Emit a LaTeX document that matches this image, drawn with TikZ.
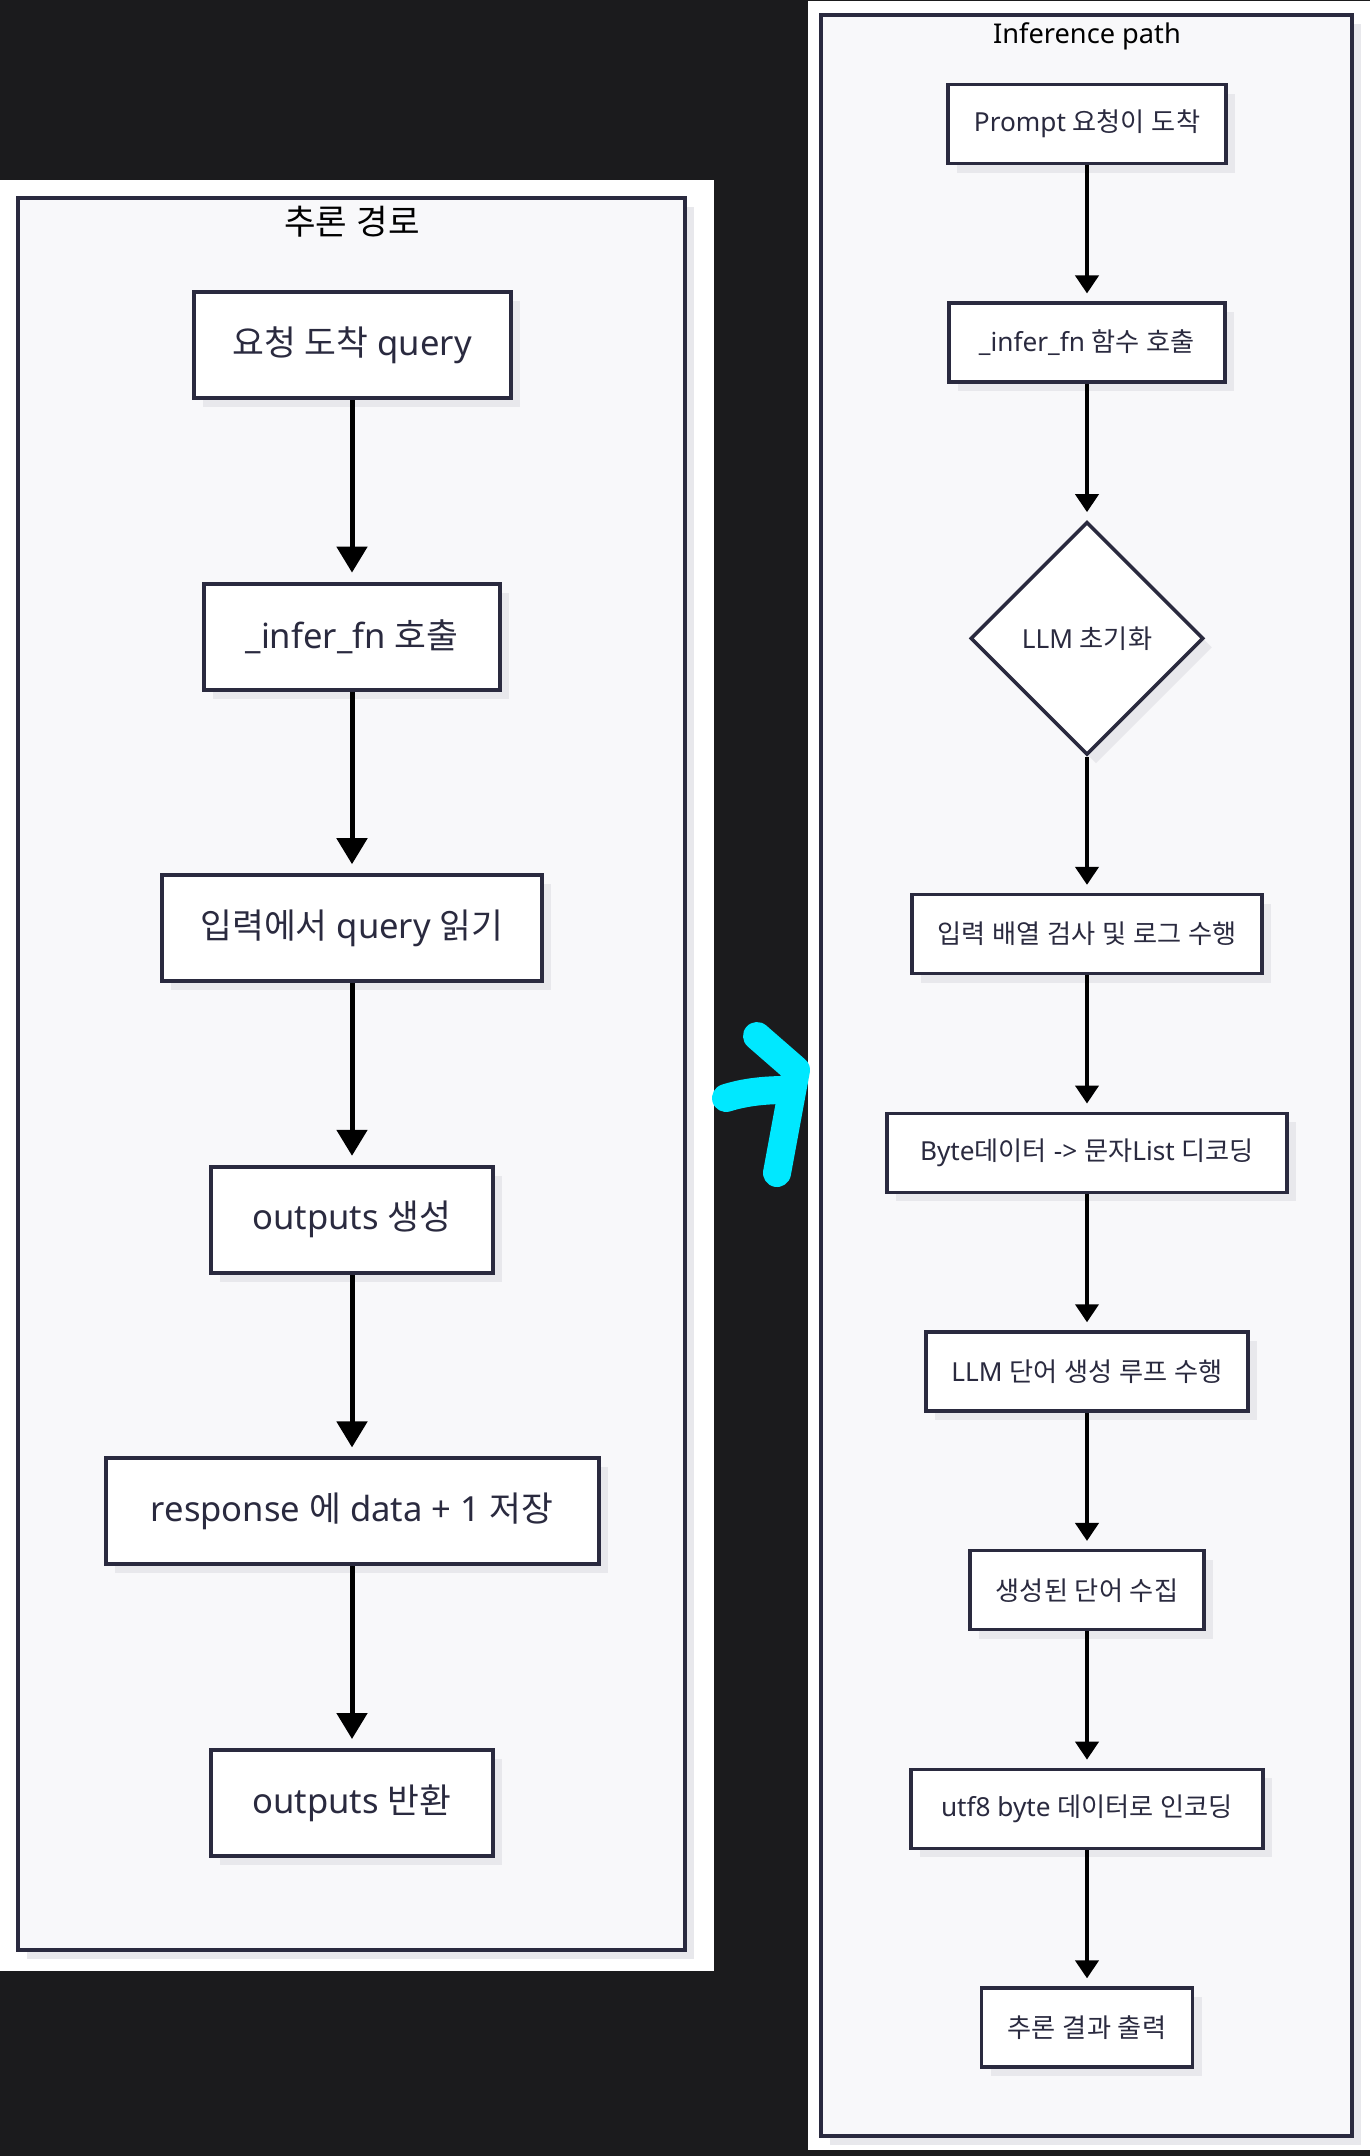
\documentclass[tikz,border=0pt]{standalone}
\usepackage{fontspec}
\setmainfont{Noto Sans}
\newfontfamily\krfont{Noto Sans CJK KR}
% 한글 글자는 CJK 글꼴로 자동 전환
\XeTeXinterchartokenstate=1
\newXeTeXintercharclass\krclass
\count255="AC00
\loop
  \XeTeXcharclass\count255=\krclass
  \ifnum\count255<"D7A3 \advance\count255 by 1
\repeat
\XeTeXinterchartoks 0 \krclass = {\begingroup\krfont}
\XeTeXinterchartoks 4095 \krclass = {\begingroup\krfont}
\XeTeXinterchartoks \krclass 0 = {\endgroup}
\XeTeXinterchartoks \krclass 4095 = {\endgroup}
\usepackage{xcolor}
\definecolor{cBack}{HTML}{1B1B1D}
\definecolor{cFrame}{HTML}{F8F8FA}
\definecolor{cMain}{HTML}{2A2A3F}
\definecolor{cShade}{HTML}{E8E8EC}
\definecolor{cMark}{HTML}{00E8FF}
\usepackage{tikz}
\usetikzlibrary{positioning,arrows.meta,shapes.geometric,shadows}
\tikzset{
  node-shade/.style={drop shadow={shadow xshift=9pt,shadow yshift=-9pt,
    fill=cShade,opacity=1}},
  node-big/.style={draw=cMain,line width=4pt,fill=white,node-shade,
    minimum height=106pt,inner xsep=2pt,text=cMain,
    font=\fontsize{34.6}{40}\selectfont},
  node-small/.style={draw=cMain,line width=3.5pt,fill=white,node-shade,
    minimum height=79pt,inner xsep=2pt,text=cMain,
    font=\fontsize{26.2}{31}\selectfont},
  node-choice/.style={diamond,draw=cMain,line width=3.5pt,fill=white,
    node-shade,minimum size=233pt,inner sep=0pt,text=cMain,
    font=\fontsize{26.2}{31}\selectfont},
  % 두 경로를 감싸는 틀과 제목
  group-frame/.style={draw=cMain,line width=4pt,fill=cFrame,node-shade},
  title-big/.style={text=black,font=\fontsize{34.3}{40}\selectfont},
  title-small/.style={text=black,font=\fontsize{27.2}{32}\selectfont},
  arrow-big/.style={-{Triangle[length=26pt,width=30pt]},line width=5pt,
    draw=black,shorten >=9pt},
  arrow-small/.style={-{Triangle[length=18pt,width=23pt]},line width=4pt,
    draw=black,shorten >=8pt},
  scribble/.style={draw=cMark,line width=28pt,line cap=round,line join=round},
}
\begin{document}
\begin{tikzpicture}[x=1pt,y=-1pt]
  \useasboundingbox (0,0) rectangle (1370,2156);
  \fill[cBack] (0,0) rectangle (1370,2156);
  \fill[white] (0,180) rectangle (714,1971);
  \fill[white] (808,1) rectangle (1370,2150);
  \draw[group-frame] (18,198) rectangle (685,1950);
  \draw[group-frame] (821,15) rectangle (1352,2136);
  \node[title-big] (leftTitle) at (352,222) {추론 경로};
  \node[title-small] (rightTitle) at (1087,36) {Inference path};

  \begin{scope}[node distance=181.6pt]
    \node[node-big,minimum width=317pt] (arrive) at (352,345) {요청 도착 query};
    \node[node-big,below=of arrive,minimum width=296pt] (infer) {\_infer\_fn 호출};
    \node[node-big,below=of infer,minimum width=380pt] (readq) {입력에서 query 읽기};
    \node[node-big,below=of readq,minimum width=282pt] (gen) {outputs 생성};
    \node[node-big,below=of gen,minimum width=493pt] (store) {response 에 data + 1 저장};
    \node[node-big,below=of store,minimum width=282pt] (ret) {outputs 반환};
    \draw[arrow-big] (arrive) -- (infer);
    \draw[arrow-big] (infer)  -- (readq);
    \draw[arrow-big] (readq)  -- (gen);
    \draw[arrow-big] (gen)    -- (store);
    \draw[arrow-big] (store)  -- (ret);
  \end{scope}

  \begin{scope}[node distance=136.2pt]
    \node[node-small,minimum width=278pt] (prompt) at (1087,124) {Prompt 요청이 도착};
    \node[node-small,below=of prompt,minimum width=276pt] (callfn) {\_infer\_fn 함수 호출};
    \node[node-choice,below=of callfn] (init) {LLM 초기화};
    \node[node-small,below=of init,minimum width=350pt] (check) {입력 배열 검사 및 로그 수행};
    \node[node-small,below=of check,minimum width=400pt] (decode) {Byte데이터 -> 문자List 디코딩};
    \node[node-small,below=of decode,minimum width=322pt] (loop) {LLM 단어 생성 루프 수행};
    \node[node-small,below=of loop,minimum width=234pt] (collect) {생성된 단어 수집};
    \node[node-small,below=of collect,minimum width=352pt] (encode) {utf8 byte 데이터로 인코딩};
    \node[node-small,below=of encode,minimum width=211pt] (result) {추론 결과 출력};
    \draw[arrow-small] (prompt)  -- (callfn);
    \draw[arrow-small] (callfn)  -- (init);
    \draw[arrow-small] (init)    -- (check);
    \draw[arrow-small] (check)   -- (decode);
    \draw[arrow-small] (decode)  -- (loop);
    \draw[arrow-small] (loop)    -- (collect);
    \draw[arrow-small] (collect) -- (encode);
    \draw[arrow-small] (encode)  -- (result);
  \end{scope}

  \draw[scribble] (757,1036) -- (796,1070) -- (777,1173);
  \draw[scribble] (726,1098) .. controls (745,1092) and (765,1090) .. (786,1090);
\end{tikzpicture}
\end{document}
